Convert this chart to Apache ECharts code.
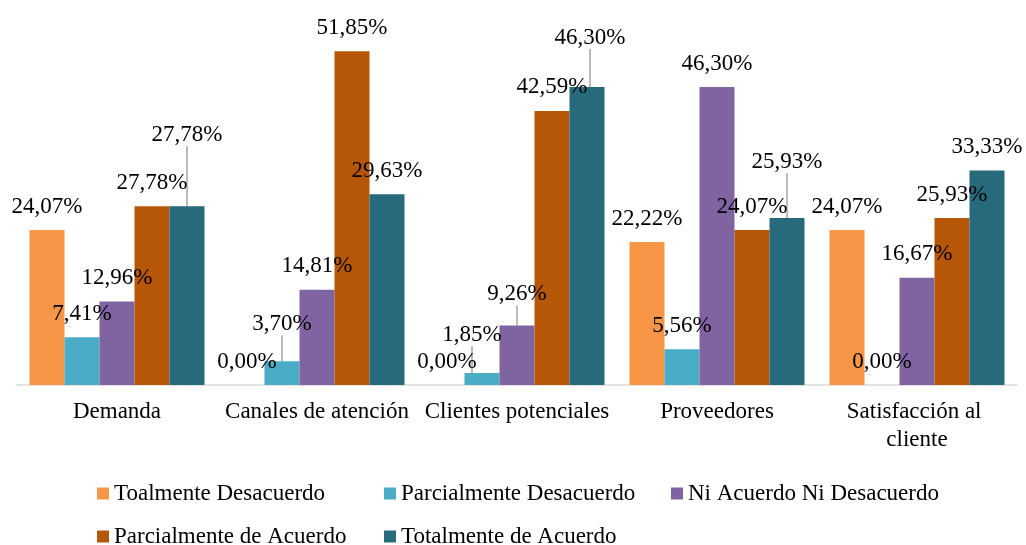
<!DOCTYPE html>
<html>
<head>
<meta charset="utf-8">
<script src="https://cdn.jsdelivr.net/npm/echarts@6/dist/echarts.min.js"></script>
<style>
  html, body {margin:0; padding:0; background:#fff;}
  #chart {width:1026px; height:545px;}
</style>
</head>
<body>
<div id="chart"></div>
<script>
const categories = ['Demanda', 'Canales de atención', 'Clientes potenciales', 'Proveedores', 'Satisfacción al cliente'];
const seriesNames = ['Toalmente Desacuerdo', 'Parcialmente Desacuerdo', 'Ni Acuerdo Ni Desacuerdo', 'Parcialmente de Acuerdo', 'Totalmente de Acuerdo'];
const toalmenteDesacuerdo = [24.07, 0.00, 0.00, 22.22, 24.07];
const parcialmenteDesacuerdo = [7.41, 3.70, 1.85, 5.56, 0.00];
const niAcuerdoNiDesacuerdo = [12.96, 14.81, 9.26, 46.30, 16.67];
const parcialmenteDeAcuerdo = [27.78, 51.85, 42.59, 24.07, 25.93];
const totalmenteDeAcuerdo = [27.78, 29.63, 46.30, 25.93, 33.33];

const values = [toalmenteDesacuerdo, parcialmenteDesacuerdo, niAcuerdoNiDesacuerdo, parcialmenteDeAcuerdo, totalmenteDeAcuerdo];
const colors = ['#F79646', '#4BACC6', '#8064A2', '#B65708', '#276A7C'];

// labels dragged away from their bar in the original, keyed "series-category"
const movedLabels = {
  '4-0': [0, -48],
  '1-1': [0, -14],
  '1-2': [-10, -15],
  '2-2': [0, -8],
  '4-2': [3, -26],
  '4-3': [0, -33]
};

const font = 'Liberation Serif, Times New Roman, serif';

let series = values.map((vals, s) => ({
  name: seriesNames[s],
  type: 'bar',
  barGap: 0,
  barCategoryGap: '12.5%',
  itemStyle: {color: colors[s]},
  label: {
    show: true,
    position: 'top',
    distance: 12,
    color: '#000',
    fontFamily: font,
    fontSize: 23,
    formatter: p => p.value.toFixed(2).replace('.', ',') + '%'
  },
  labelLine: {show: false, lineStyle: {color: '#A6A6A6', width: 1.5}},
  labelLayout: p => {
    let m = movedLabels[s + '-' + p.dataIndex];
    return m ? {dx: m[0], dy: m[1]} : {};
  },
  data: vals.map((v, i) => movedLabels[s + '-' + i]
    ? {value: v, labelLine: {show: true, lineStyle: {color: '#A6A6A6', width: 1.5}}}
    : v)
}));

let option = {
  animation: false,
  color: colors,
  grid: {left: 17, right: 9, top: 31, bottom: 160},
  xAxis: {
    type: 'category',
    data: categories,
    axisLine: {lineStyle: {color: '#D9D9D9', width: 1.5}},
    axisTick: {show: false},
    axisLabel: {
      interval: 0,
      margin: 13,
      color: '#000',
      fontFamily: font,
      fontSize: 23,
      lineHeight: 28,
      width: 200,
      overflow: 'break'
    }
  },
  yAxis: {
    type: 'value',
    min: 0,
    max: 55,
    show: false,
    splitLine: {show: false}
  },
  legend: {
    left: 97,
    top: 482,
    padding: 0,
    width: 860,
    itemWidth: 12,
    itemHeight: 12,
    itemGap: 20,
    icon: 'rect',
    data: seriesNames,
    textStyle: {
      color: '#000',
      fontFamily: font,
      fontSize: 23,
      lineHeight: 20,
      width: 250
    }
  },
  series
};

let chart = echarts.init(document.getElementById('chart'));
chart.setOption(option);
</script>
</body>
</html>
